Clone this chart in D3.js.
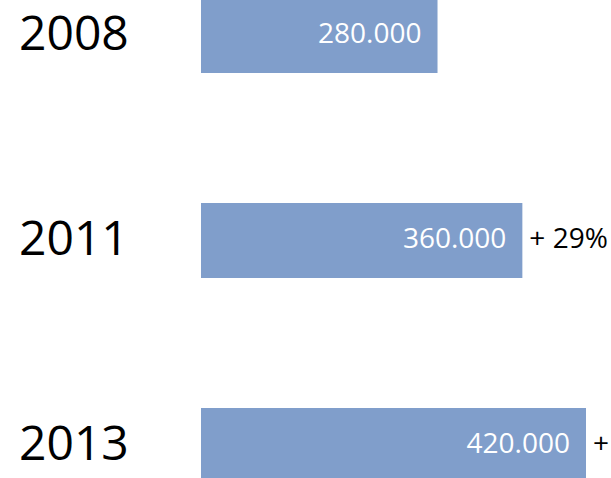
<!DOCTYPE html>
<html>
<head>
<meta charset="utf-8">
<script src="https://cdn.jsdelivr.net/npm/d3@7"></script>
<style>
  html, body { margin: 0; padding: 0; background: #fff; }
  svg { display: block; font-family: "Open Sans", sans-serif; }
</style>
</head>
<body>
<div id="chart"></div>
<script>
const years = ["2008", "2011", "2013"];
const values = [280000, 360000, 420000];
const changes = ["", "+ 29%", "+ 17%"];

const width = 611, height = 478;

const data = years.map(function (y, i) {
    return {year: y, value: values[i], change: changes[i]};
});

const svg = d3.select("#chart")
    .append("svg")
    .attr("width", width)
    .attr("height", height);

const yScale = d3.scalePoint()
    .domain(years)
    .range([35.5, 445.5]);

const barH = 75;
const x0 = 201;

const xScale = d3.scaleLinear()
    .domain([57000, 420000])
    .range([0, 385]);

const fmt = d3.formatLocale({decimal: ",", thousands: ".", grouping: [3], currency: ["", "€"]}).format(",d");

svg.append("g")
    .selectAll(".bar")
    .data(data)
    .enter()
    .append("rect")
    .attr("class", "bar")
    .attr("x", x0)
    .attr("y", function (d) {return yScale(d.year) - barH / 2;})
    .attr("width", function (d) {return xScale(d.value);})
    .attr("height", barH)
    .attr("fill", "#809ecb");

svg.append("g")
    .selectAll(".year")
    .data(data)
    .enter()
    .append("text")
    .attr("class", "year")
    .attr("x", 19)
    .attr("y", function (d) {return yScale(d.year) + 14;})
    .attr("font-size", "48px")
    .attr("fill", "#000")
    .text(function (d) {return d.year;});

svg.append("g")
    .selectAll(".val")
    .data(data)
    .enter()
    .append("text")
    .attr("class", "val")
    .attr("text-anchor", "end")
    .attr("x", function (d) {return x0 + xScale(d.value) - 16;})
    .attr("y", function (d) {return yScale(d.year) + 7;})
    .attr("font-size", "28px")
    .attr("fill", "#fff")
    .text(function (d) {return fmt(d.value);});

svg.append("g")
    .selectAll(".chg")
    .data(data.filter(function (d) {return d.change;}))
    .enter()
    .append("text")
    .attr("class", "chg")
    .attr("x", function (d) {return x0 + xScale(d.value) + 7;})
    .attr("y", function (d) {return yScale(d.year) + 7;})
    .attr("font-size", "28px")
    .attr("fill", "#000")
    .text(function (d) {return d.change;});
</script>
</body>
</html>
